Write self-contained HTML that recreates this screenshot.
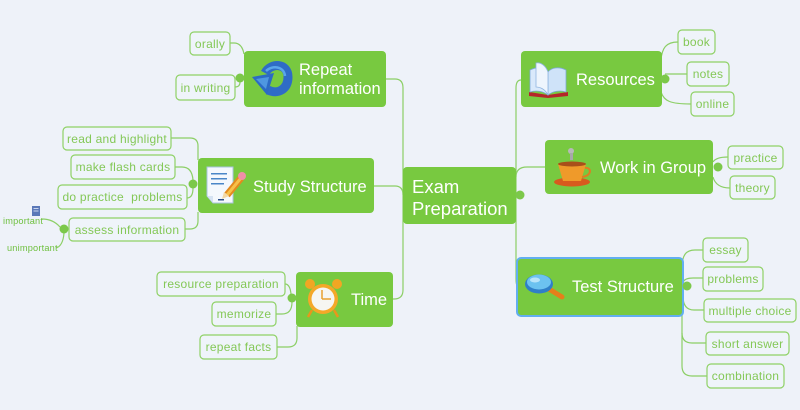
<!DOCTYPE html>
<html><head><meta charset="utf-8"><style>
html,body{margin:0;padding:0;background:#eef2f9;}
svg{display:block;}
.leaf rect{fill:#eff4fa;stroke:#8fd166;stroke-width:1.2;}
.leaf text{fill:#84c857;font-family:"Liberation Sans",sans-serif;font-size:12px;letter-spacing:0.25px;text-anchor:middle;}
.node{fill:#78c940;}
.nt{fill:#fff;font-family:"Liberation Sans",sans-serif;font-size:16.5px;}
.ln{fill:none;stroke:#8ccf66;stroke-width:1.2;}
.cc{fill:#7cc84a;}
</style></head><body>
<svg width="800" height="410" viewBox="0 0 800 410" xmlns="http://www.w3.org/2000/svg">
<rect width="800" height="410" fill="#eef2f9"/>
<!-- connectors -->
<g class="ln">
<path d="M386,79 H395 Q403,79 403,88 V290 Q403,299 394,299 H393"/>
<path d="M374,186 H395 Q403,186 403,195"/>
<path d="M521,80 Q516,80 516,88 V279 Q516,286 518,286"/>
<path d="M516,177 Q516,167 527,167 H545"/>
<path d="M661,60 C662,48 666,42 678,42"/>
<path d="M665,74 H687"/>
<path d="M661,92 C664,101 670,104 691,104"/>
<path d="M713,162 Q716,157 728,157"/>
<path d="M713,177 Q716,188 730,188"/>
<path d="M682,268 C682,255 686,250 695,250 H703"/>
<path d="M683,282 Q685,278 693,278 H703"/>
<path d="M683,296 Q683,310 694,310 H704"/>
<path d="M682,305 V366 Q682,376 692,376 H707"/>
<path d="M682,333 Q682,343 692,343 H706"/>
<path d="M230,43 H234 Q242,43 244,54"/>
<path d="M235,87 Q240,87 240,82"/>
<path d="M171,138 H190 Q198,138 198,146 V160"/>
<path d="M175,167 H182 Q192,167 193,180"/>
<path d="M187,198 Q193,198 193,188"/>
<path d="M185,229 H190 Q198,229 198,221 V212"/>
<path d="M42,219 Q53,219 60,227"/>
<path d="M56,248 Q63,246 64,233"/>
<path d="M285,284 Q290,284 291,294"/>
<path d="M276,314 H282 Q292,314 292,302"/>
<path d="M277,347 H288 Q297,347 297,338 V326"/>
</g>

<!-- main nodes -->
<rect class="node" x="244" y="51" width="142" height="56" rx="4"/>
<rect class="node" x="198" y="158" width="176" height="55" rx="4"/>
<rect class="node" x="296" y="272" width="97" height="55" rx="4"/>
<rect class="node" x="403" y="167" width="113" height="57" rx="4"/>
<rect class="node" x="521" y="51" width="141" height="56" rx="4"/>
<rect class="node" x="545" y="140" width="168" height="54" rx="4"/>
<rect class="node" x="517" y="258" width="166" height="58" rx="4" stroke="#62aef0" stroke-width="2"/>

<text class="nt" x="299" y="75">Repeat</text>
<text class="nt" x="299" y="94">information</text>
<text class="nt" x="253" y="192">Study Structure</text>
<text class="nt" x="351" y="305">Time</text>
<text class="nt" x="412" y="193" style="font-size:18.5px">Exam</text>
<text class="nt" x="412" y="215" style="font-size:18.5px">Preparation</text>
<text class="nt" x="576" y="85">Resources</text>
<text class="nt" x="600" y="173">Work in Group</text>
<text class="nt" x="572" y="292">Test Structure</text>

<!-- collapse circles -->
<g>
<circle class="cc" cx="240" cy="78" r="4.5"/>
<circle class="cc" cx="193" cy="184" r="4.5"/>
<circle class="cc" cx="64" cy="229" r="4.5"/>
<circle class="cc" cx="292" cy="298" r="4.5"/>
<circle class="cc" cx="520" cy="195" r="4.5"/>
<circle class="cc" cx="665" cy="79" r="4.5"/>
<circle class="cc" cx="718" cy="167" r="4.5"/>
<circle class="cc" cx="687" cy="286" r="4.5"/>
</g>

<!-- leaves -->
<g class="leaf">
<rect x="190" y="32" width="40" height="23" rx="4"/><text x="210" y="48">orally</text>
<rect x="176" y="75" width="59" height="25" rx="4"/><text x="205.5" y="92">in writing</text>
<rect x="63" y="127" width="108" height="23" rx="4"/><text x="117" y="143">read and highlight</text>
<rect x="71" y="155" width="104" height="24" rx="4"/><text x="123" y="171">make flash cards</text>
<rect x="58" y="185" width="129" height="24" rx="4"/><text x="122.5" y="201" xml:space="preserve">do practice  problems</text>
<rect x="69" y="218" width="116" height="23" rx="4"/><text x="127" y="234">assess information</text>
<rect x="157" y="272" width="128" height="24" rx="4"/><text x="221" y="288">resource preparation</text>
<rect x="212" y="302" width="64" height="24" rx="4"/><text x="244" y="318">memorize</text>
<rect x="200" y="335" width="77" height="24" rx="4"/><text x="238.5" y="351">repeat facts</text>
<rect x="678" y="30" width="37" height="24" rx="4"/><text x="696.5" y="46">book</text>
<rect x="687" y="62" width="42" height="24" rx="4"/><text x="708" y="78">notes</text>
<rect x="691" y="92" width="43" height="24" rx="4"/><text x="712.5" y="108">online</text>
<rect x="728" y="146" width="55" height="23" rx="4"/><text x="755.5" y="162">practice</text>
<rect x="730" y="176" width="45" height="23" rx="4"/><text x="752.5" y="192">theory</text>
<rect x="703" y="238" width="45" height="24" rx="4"/><text x="725.5" y="254">essay</text>
<rect x="703" y="267" width="60" height="24" rx="4"/><text x="733" y="283">problems</text>
<rect x="704" y="299" width="92" height="23" rx="4"/><text x="750" y="315">multiple choice</text>
<rect x="706" y="332" width="83" height="23" rx="4"/><text x="747.5" y="348">short answer</text>
<rect x="707" y="364" width="77" height="24" rx="4"/><text x="745.5" y="380">combination</text>
</g>

<text x="3" y="224" fill="#6fc040" font-family="Liberation Sans, sans-serif" font-size="9.2" letter-spacing="0.2">important</text>
<text x="7" y="251" fill="#6fc040" font-family="Liberation Sans, sans-serif" font-size="9.2" letter-spacing="0.2">unimportant</text>
<rect x="32" y="206" width="8" height="10" fill="#5a78b8"/>
<rect x="33.5" y="208" width="5" height="1" fill="#c8d4ee"/>
<rect x="33.5" y="210.5" width="5" height="1" fill="#c8d4ee"/>

<!-- repeat icon -->
<g>
<path d="M265,73 C271,62 288,63 288,77 C288,89 278,95 268,90" fill="none" stroke="#2f6cc6" stroke-width="9"/>
<path d="M266,71 C272,65 284,66 285,76" fill="none" stroke="#5aa6ea" stroke-width="2.5"/>
<polygon points="252,77 274,73 267,95" fill="#2c6ac4"/>
<polygon points="256,79 269,77 266,89" fill="#4f97e0"/>
</g>

<!-- study icon -->
<g>
<path d="M207,167 H233 V203 H213 L207,196 Z" fill="#f4f8fd" stroke="#a9c3e0" stroke-width="1"/>
<path d="M207,196 L213,196 L213,203" fill="#d6e3f3"/>
<rect x="211" y="173" width="16" height="1.5" fill="#4a86c8"/>
<rect x="211" y="178" width="16" height="1.5" fill="#4a86c8"/>
<rect x="211" y="183" width="13" height="1.5" fill="#4a86c8"/>
<line x1="227" y1="195" x2="241" y2="178" stroke="#e48a1e" stroke-width="7"/>
<line x1="227" y1="195" x2="241" y2="178" stroke="#f7c14a" stroke-width="3"/>
<circle cx="242" cy="176" r="4" fill="#ef8fa8"/>
<polygon points="222,199 224,192 229,196" fill="#f3d9a8"/>
<rect x="218" y="199" width="6" height="1.5" fill="#2b4f8a"/>
</g>

<!-- clock icon -->
<g>
<circle cx="310" cy="284" r="5" fill="#f2a623"/>
<circle cx="337" cy="284" r="5" fill="#f2a623"/>
<line x1="312" y1="310" x2="308" y2="317" stroke="#e8961c" stroke-width="2.5"/>
<line x1="334" y1="310" x2="338" y2="317" stroke="#e8961c" stroke-width="2.5"/>
<circle cx="323" cy="299" r="15" fill="#f4a828"/>
<circle cx="323" cy="299" r="11.5" fill="#f6f6f2"/>
<line x1="322" y1="299" x2="322" y2="290" stroke="#e8a030" stroke-width="1.5"/>
<line x1="322" y1="299" x2="331" y2="299" stroke="#e8a030" stroke-width="1.5"/>
</g>

<!-- book icon -->
<g>
<path d="M529,92 L548,95 L568,92 L568,96 L548,98 L529,96 Z" fill="#b5252a"/>
<path d="M530,70 C538,66 545,68 548,72 L548,95 C543,91 536,90 530,92 Z" fill="#d9e9fb" stroke="#7ea9d9" stroke-width="0.8"/>
<path d="M566,70 C558,66 551,68 548,72 L548,95 C553,91 560,90 566,92 Z" fill="#cfe3f9" stroke="#7ea9d9" stroke-width="0.8"/>
<path d="M536,63 C541,62 546,66 548,72 L548,95 C545,89 540,87 536,87 Z" fill="#eef5fd" stroke="#8fb4df" stroke-width="0.8"/>
</g>

<!-- cup icon -->
<g>
<circle cx="571" cy="151" r="3" fill="#b8b8b8"/>
<rect x="570" y="153" width="3" height="7" fill="#a8a8a8"/>
<ellipse cx="572" cy="182" rx="18" ry="4.5" fill="#d85a1e"/>
<path d="M558,164 H586 L581,181 H563 Z" fill="#ef9a2a"/>
<ellipse cx="572" cy="164" rx="14" ry="2.5" fill="#a8501a"/>
<path d="M585,168 C592,167 592,176 582,177" fill="none" stroke="#e07d22" stroke-width="2"/>
</g>

<!-- magnifier icon -->
<g>
<line x1="549" y1="289" x2="562" y2="297" stroke="#e57f1a" stroke-width="5" stroke-linecap="round"/>
<ellipse cx="539" cy="284" rx="14" ry="9.5" fill="#2f7fc8"/>
<ellipse cx="539" cy="282" rx="12" ry="7.5" fill="#6cc2f0"/>
<ellipse cx="535" cy="280" rx="5" ry="2.5" fill="#b9e4fa"/>
</g>
</svg>
</body></html>
